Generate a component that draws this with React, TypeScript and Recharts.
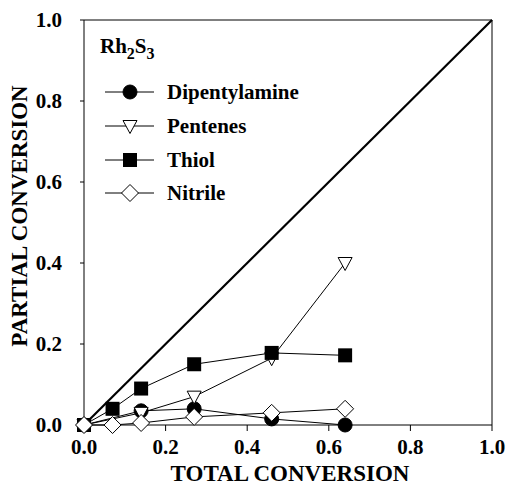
import React from "react";
import { LineChart, Line, XAxis, YAxis, ReferenceLine, Legend } from "recharts";

const totalConversion = [0, 0.07, 0.14, 0.27, 0.46, 0.64];
const dipentylamine = [0, null, 0.035, 0.04, 0.015, 0.0];
const pentenes = [0, null, 0.03, 0.07, 0.165, 0.4];
const thiol = [0, 0.04, 0.09, 0.15, 0.178, 0.172];
const nitrile = [0, 0.0, 0.005, 0.02, 0.03, 0.04];
const ticks = [0, 0.2, 0.4, 0.6, 0.8, 1.0];
const seriesNames = ["Dipentylamine", "Pentenes", "Thiol", "Nitrile"];

const data = totalConversion.map((x, i) => ({
  x,
  dip: dipentylamine[i],
  pen: pentenes[i],
  thi: thiol[i],
  nit: nitrile[i],
}));

const FONT = '"Liberation Serif", "Times New Roman", Times, serif';
const textStyle: React.CSSProperties = { fontFamily: FONT, fontWeight: 700 };

type MarkerKind = "circle" | "triangle" | "square" | "diamond";

const Marker = ({ kind, cx, cy }: { kind: MarkerKind; cx: number; cy: number }) => {
  if (kind === "circle") return <circle cx={cx} cy={cy} r={7} fill="#000" stroke="#000" />;
  if (kind === "triangle")
    return (
      <polygon
        points={`${cx - 7},${cy - 5.5} ${cx + 7},${cy - 5.5} ${cx},${cy + 7.5}`}
        fill="#fff"
        stroke="#000"
        strokeWidth={1}
      />
    );
  if (kind === "square") return <rect x={cx - 7} y={cy - 7} width={14} height={14} fill="#000" />;
  return (
    <polygon
      points={`${cx},${cy - 8.5} ${cx + 8.5},${cy} ${cx},${cy + 8.5} ${cx - 8.5},${cy}`}
      fill="#fff"
      stroke="#000"
      strokeWidth={1}
    />
  );
};

const makeDot = (kind: MarkerKind) => (props: any) => {
  const { cx, cy, index, value } = props;
  if (cx == null || cy == null || value == null) return <g key={`e-${kind}-${index}`} />;
  return <Marker key={`${kind}-${index}`} kind={kind} cx={cx} cy={cy} />;
};

const kinds: MarkerKind[] = ["circle", "triangle", "square", "diamond"];
const legendRows = [92, 126, 160, 193];

const LegendBox = () => (
  <svg width={320} height={215} style={{ display: "block" }}>
    <text x={100} y={53} style={{ ...textStyle, fontSize: 21 }} fill="#000">
      Rh
      <tspan style={{ fontSize: 16 }} dy={6}>2</tspan>
      <tspan style={{ fontSize: 21 }} dy={-6}>S</tspan>
      <tspan style={{ fontSize: 16 }} dy={6}>3</tspan>
    </text>
    {seriesNames.map((name, i) => {
      const y = legendRows[i];
      return (
        <g key={name}>
          <line x1={105} x2={154} y1={y} y2={y} stroke="#000" strokeWidth={1} />
          <Marker kind={kinds[i]} cx={130} cy={y} />
          <text x={167} y={y + 7} style={{ ...textStyle, fontSize: 21 }} fill="#000">
            {name}
          </text>
        </g>
      );
    })}
  </svg>
);

const tickProps = { style: { ...textStyle, fontSize: 21 }, fill: "#000", fontFamily: FONT, fontWeight: 700, fontSize: 21 };

export default function App() {
  return (
    <div
      style={{
        position: "absolute",
        left: 0,
        top: 0,
        width: 508,
        height: 500,
        background: "#fff",
        fontFamily: FONT,
        fontWeight: 700,
      }}
    >
      <LineChart width={508} height={500} data={data} margin={{ top: 20, right: 16, bottom: 0, left: 0 }}>
        <XAxis
          dataKey="x"
          type="number"
          domain={[0, 1]}
          ticks={ticks}
          tickFormatter={(v: number) => v.toFixed(1)}
          height={75}
          tickSize={6}
          tickMargin={8}
          stroke="#000"
          tick={tickProps}
          label={() => (
            <text x={290} y={481} textAnchor="middle" style={{ ...textStyle, fontSize: 23 }} fill="#000">
              TOTAL CONVERSION
            </text>
          )}
        />
        <YAxis
          type="number"
          domain={[0, 1]}
          ticks={ticks}
          tickFormatter={(v: number) => v.toFixed(1)}
          width={84}
          tickSize={4}
          tickMargin={18}
          stroke="#000"
          tick={tickProps}
          label={() => (
            <text
              x={27}
              y={216}
              transform="rotate(-90 27 216)"
              textAnchor="middle"
              style={{ ...textStyle, fontSize: 23 }}
              fill="#000"
            >
              PARTIAL CONVERSION
            </text>
          )}
        />
        <ReferenceLine y={1} stroke="#000" strokeWidth={1} />
        <ReferenceLine x={1} stroke="#000" strokeWidth={1} />
        <ReferenceLine
          segment={[
            { x: 0, y: 0 },
            { x: 1, y: 1 },
          ]}
          stroke="#000"
          strokeWidth={2.2}
        />
        <Line dataKey="dip" stroke="#000" strokeWidth={1} connectNulls isAnimationActive={false} dot={makeDot("circle")} />
        <Line dataKey="pen" stroke="#000" strokeWidth={1} connectNulls isAnimationActive={false} dot={makeDot("triangle")} />
        <Line dataKey="thi" stroke="#000" strokeWidth={1} connectNulls isAnimationActive={false} dot={makeDot("square")} />
        <Line dataKey="nit" stroke="#000" strokeWidth={1} connectNulls isAnimationActive={false} dot={makeDot("diamond")} />
        <Legend
          layout="vertical"
          align="center"
          verticalAlign="middle"
          content={() => <LegendBox />}
          wrapperStyle={{ position: "absolute", left: 0, top: 0, width: 320, height: 215, pointerEvents: "none" }}
        />
      </LineChart>
    </div>
  );
}
